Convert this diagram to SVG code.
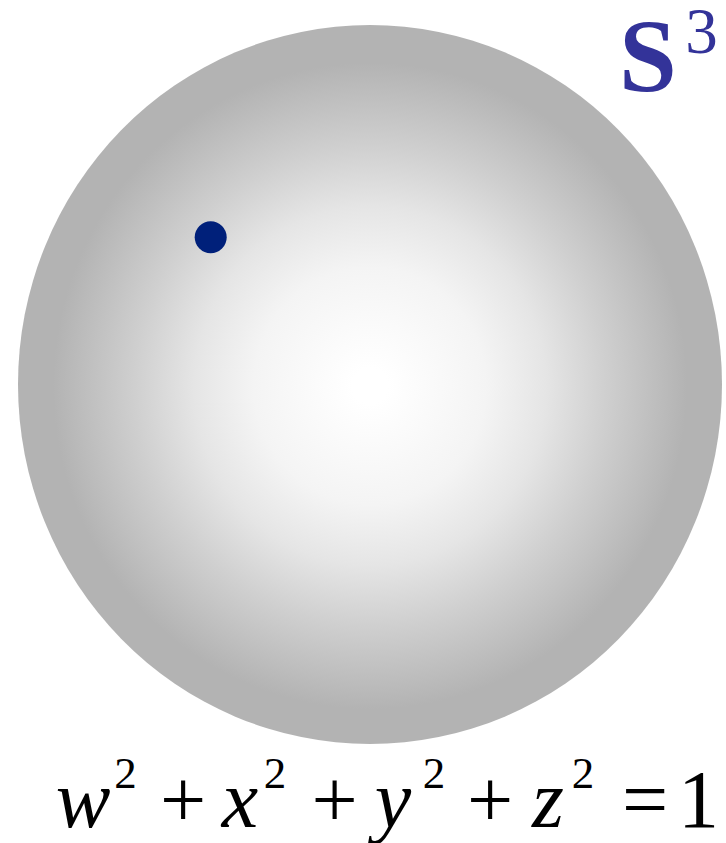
<svg xmlns="http://www.w3.org/2000/svg" width="726" height="843" viewBox="0 0 726 843">
<defs>
<radialGradient id="g" cx="370" cy="386" r="352" gradientUnits="userSpaceOnUse" gradientTransform="translate(370 386) scale(1 1.02) translate(-370 -386)">
<stop offset="0" stop-color="#ffffff"/>
<stop offset="0.05" stop-color="#ffffff"/>
<stop offset="0.33" stop-color="#f4f4f4"/>
<stop offset="0.5" stop-color="#e5e5e5"/>
<stop offset="0.67" stop-color="#cfcfcf"/>
<stop offset="0.9" stop-color="#b3b3b3"/>
<stop offset="1" stop-color="#b3b3b3"/>
</radialGradient>
<style>
.eq{font-family:"Liberation Serif","Times New Roman",serif;font-size:82px;fill:#000}
.it{font-style:italic}
.sup{font-size:45px}
.lab{font-family:"Liberation Serif","Times New Roman",serif;fill:#333399}
</style>
</defs>
<rect width="726" height="843" fill="#ffffff"/>
<g id="sphere">
<ellipse cx="370" cy="384.5" rx="352" ry="359.5" fill="url(#g)"/>
</g>
<g id="point">
<circle cx="210.7" cy="237.3" r="16" fill="#00207a"/>
</g>
<g id="label">
<text class="lab" x="648" y="91" text-anchor="middle" font-weight="bold" font-size="104">S</text>
<text class="lab" x="701.5" y="53" text-anchor="middle" font-size="65">3</text>
</g>
<g id="equation">
<text class="eq it" x="83" y="827" text-anchor="middle">w</text>
<text class="eq sup" x="125.5" y="788" text-anchor="middle">2</text>
<text class="eq" x="183" y="827" text-anchor="middle">+</text>
<text class="eq it" x="240" y="827" text-anchor="middle">x</text>
<text class="eq sup" x="275" y="788" text-anchor="middle">2</text>
<text class="eq" x="334.5" y="827" text-anchor="middle">+</text>
<text class="eq it" x="393" y="827" text-anchor="middle">y</text>
<text class="eq sup" x="434" y="788" text-anchor="middle">2</text>
<text class="eq" x="490" y="827" text-anchor="middle">+</text>
<text class="eq it" x="548" y="827" text-anchor="middle">z</text>
<text class="eq sup" x="583" y="788" text-anchor="middle">2</text>
<text class="eq" x="645" y="827" text-anchor="middle">=</text>
<text class="eq" x="698.5" y="827" text-anchor="middle">1</text>
</g>
</svg>
